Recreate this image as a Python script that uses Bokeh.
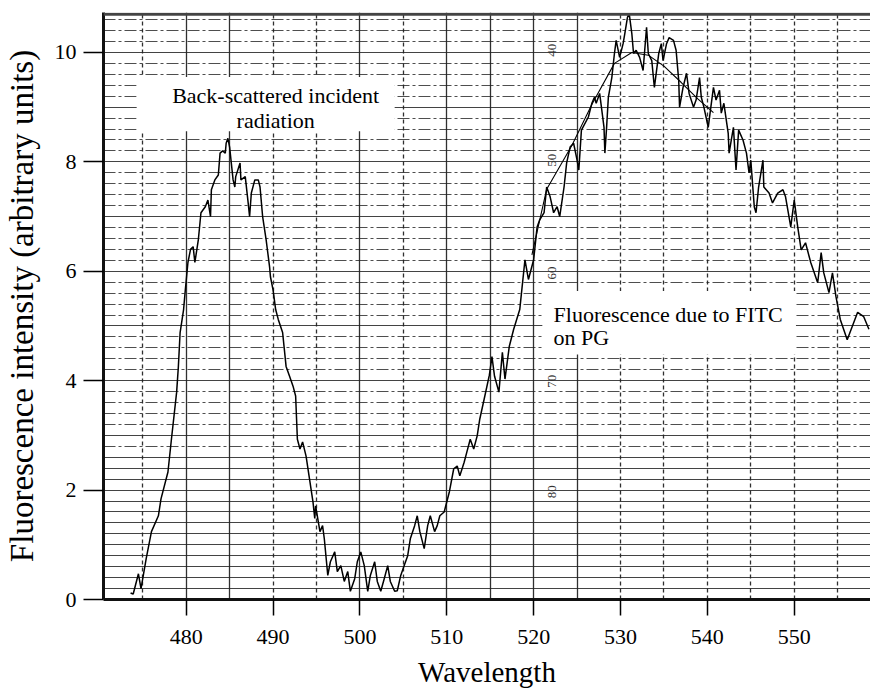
import math
from bokeh.plotting import figure
from bokeh.models import Range1d, FixedTicker, Grid, Span
from bokeh.core.properties import value
from bokeh.embed import file_html
from bokeh.resources import INLINE

# ---- data ----
wl = [473.6, 473.9, 474.5, 474.8, 475.4, 476.0, 476.8, 477.1, 477.9, 478.3, 478.9, 479.1, 479.3, 479.7,
      479.9, 480.2, 480.5, 480.8, 481.0, 481.4, 481.7, 482.2, 482.5, 482.8, 482.9, 483.3, 483.7, 483.9,
      484.2, 484.5, 484.6, 484.8, 485.0, 485.4, 485.6, 485.7, 486.2, 486.3, 486.8, 487.1, 487.3, 487.5,
      487.9, 488.3, 488.5, 488.8, 489.2, 489.6, 489.7, 490.0, 490.3, 490.6, 491.1, 491.5, 491.9, 492.3,
      492.6, 492.8, 493.1, 493.4, 493.8, 494.2, 494.6, 494.8, 494.9, 495.4, 495.7, 495.9, 496.3, 496.6,
      497.1, 497.4, 497.8, 498.2, 498.6, 498.9, 499.4, 499.7, 500.1, 500.5, 500.9, 501.2, 501.7, 502.0,
      502.4, 502.8, 503.2, 503.5, 504.0, 504.3, 504.7, 505.1, 505.5, 505.8, 506.3, 506.6, 506.9, 507.4,
      507.8, 508.1, 508.6, 508.9, 509.2, 509.7, 510.3, 510.8, 511.2, 511.5, 512.0, 512.3, 512.7, 513.1,
      513.5, 513.8, 514.3, 514.9, 515.2, 515.5, 516.0, 516.4, 516.7, 517.2, 517.7, 518.4, 519.0, 519.4,
      520.0, 520.4, 520.7, 521.2, 521.5, 521.9, 522.3, 522.7, 523.0, 523.5, 523.8, 524.2, 524.6, 525.0,
      525.2, 525.5, 526.3, 526.7, 527.0, 527.2, 527.6, 528.1, 528.2, 528.4, 528.6, 529.0, 529.3, 529.5,
      529.9, 530.3, 530.5, 530.8, 531.0, 531.3, 531.5, 531.8, 532.2, 532.6, 533.0, 533.2, 533.6, 533.9,
      534.4, 534.7, 534.9, 535.3, 535.6, 536.1, 536.4, 536.7, 536.8, 537.2, 537.6, 537.9, 538.4, 538.7,
      539.1, 539.3, 539.6, 540.1, 540.4, 540.7, 541.0, 541.4, 541.6, 541.9, 542.4, 542.5, 543.0, 543.3,
      543.6, 544.1, 544.5, 544.8, 545.0, 545.4, 545.6, 545.9, 546.4, 546.5, 547.1, 547.5, 548.1, 548.7,
      549.0, 549.6, 550.0, 550.4, 550.8, 551.3, 551.9, 552.7, 553.1, 553.4, 554.0, 554.4, 554.8, 555.3,
      556.1, 557.3, 558.0, 558.6]
intensity = [0.12, 0.10, 0.47, 0.20, 0.75, 1.24, 1.53, 1.84, 2.33, 2.93, 3.79, 4.26, 4.88, 5.30,
             5.66, 6.16, 6.40, 6.45, 6.16, 6.58, 7.07, 7.18, 7.30, 7.00, 7.49, 7.67, 7.76, 8.16,
             8.20, 8.16, 8.34, 8.43, 8.27, 7.67, 7.54, 7.73, 7.98, 7.67, 7.73, 7.30, 7.00, 7.43,
             7.67, 7.67, 7.54, 7.00, 6.58, 6.08, 5.90, 5.66, 5.30, 5.12, 4.88, 4.26, 4.08, 3.90,
             3.72, 2.93, 2.75, 2.88, 2.62, 2.20, 1.78, 1.48, 1.71, 1.24, 1.35, 1.11, 0.44, 0.69,
             0.87, 0.51, 0.62, 0.33, 0.51, 0.15, 0.38, 0.69, 0.87, 0.62, 0.15, 0.44, 0.69, 0.33,
             0.15, 0.38, 0.62, 0.33, 0.15, 0.16, 0.44, 0.62, 0.80, 1.11, 1.35, 1.53, 1.24, 0.93,
             1.35, 1.53, 1.24, 1.35, 1.53, 1.60, 1.97, 2.39, 2.44, 2.26, 2.51, 2.69, 2.93, 2.75,
             2.99, 3.30, 3.66, 4.10, 4.44, 4.08, 3.79, 4.52, 4.03, 4.63, 4.94, 5.30, 6.21, 5.85,
             6.21, 6.81, 6.94, 7.07, 7.54, 7.36, 7.07, 7.18, 7.00, 7.54, 7.98, 8.27, 8.34, 8.03,
             7.85, 8.58, 8.82, 9.07, 9.18, 9.07, 9.25, 8.63, 8.16, 8.63, 9.18, 9.54, 9.98, 10.22,
             9.91, 10.16, 10.35, 10.64, 10.71, 10.35, 9.98, 10.04, 9.91, 9.67, 10.46, 9.98, 9.85, 9.36,
             9.98, 10.16, 9.85, 10.16, 10.27, 10.22, 10.04, 9.49, 9.00, 9.36, 9.62, 9.25, 9.00, 9.13,
             9.54, 9.18, 9.00, 8.63, 9.00, 9.36, 9.13, 9.31, 8.89, 9.07, 8.52, 8.16, 8.63, 7.85,
             8.58, 8.40, 8.16, 7.80, 8.03, 7.18, 7.07, 7.54, 8.03, 7.54, 7.43, 7.25, 7.43, 7.49,
             7.36, 6.81, 7.30, 6.81, 6.39, 6.52, 6.16, 5.79, 6.34, 5.97, 5.61, 5.97, 5.54, 5.12,
             4.75, 5.25, 5.17, 4.94]

fit_wl = [519.8, 521.5, 524.4, 526.7, 529.3, 531.3, 533.2, 535.0, 537.0, 538.9, 540.7]
fit_val = [6.30, 7.50, 8.30, 9.05, 9.80, 10.00, 9.95, 9.75, 9.45, 9.15, 8.90]

x_ticks = [480, 490, 500, 510, 520, 530, 540, 550]
y_ticks = [0, 2, 4, 6, 8, 10]

paper_labels = ["40", "50", "60", "70", "80"]
paper_label_y = [10.04, 8.03, 5.97, 3.99, 1.97]
paper_label_x = [522.1] * 5

SERIF = "Liberation Serif"

p = figure(width=870, height=690,
           x_range=Range1d(470.48, 558.78), y_range=Range1d(0, 10.73),
           output_backend="svg", toolbar_location=None,
           min_border_left=100, min_border_right=0, min_border_top=12, min_border_bottom=89)
p.outline_line_color = None
p.background_fill_color = "white"
p.border_fill_color = "white"

# chart-paper grid
p.xgrid.visible = False
p.ygrid.visible = False
v_solid = [480, 485, 500, 510, 515, 520, 525]
v_dash = [475, 490, 495, 505, 530, 535, 540, 545, 550, 555]
p.add_layout(Grid(dimension=0, ticker=FixedTicker(ticks=v_solid), grid_line_color="#1a1a1a",
                  grid_line_width=1.3, grid_line_alpha=0.9))
p.add_layout(Grid(dimension=0, ticker=FixedTicker(ticks=v_dash), grid_line_color="#1a1a1a",
                  grid_line_width=1.3, grid_line_alpha=0.9, grid_line_dash="4 3"))
h_all = [round(0.2 * i, 1) for i in range(1, 54)]
h_low = [h for h in h_all if h <= 2.6]
h_int = [h for h in h_all if h > 2.6 and abs(h - round(h)) < 1e-6]
h_dash = [h for h in h_all if h > 2.6 and abs(h - round(h)) >= 1e-6]
p.add_layout(Grid(dimension=1, ticker=FixedTicker(ticks=h_low), grid_line_color="#222222",
                  grid_line_width=1.1, grid_line_alpha=0.85))
p.add_layout(Grid(dimension=1, ticker=FixedTicker(ticks=h_int), grid_line_color="#222222",
                  grid_line_width=1.1, grid_line_alpha=0.85))
p.add_layout(Grid(dimension=1, ticker=FixedTicker(ticks=h_dash), grid_line_color="#222222",
                  grid_line_width=1.1, grid_line_alpha=0.8, grid_line_dash="12 3 3 3"))

# top border of the paper
p.add_layout(Span(location=10.70, dimension="width", line_color="#444444", line_width=3))

# paper scale numbers
p.text(x=paper_label_x, y=paper_label_y, text=paper_labels, angle=math.pi / 2,
       text_font=value(SERIF), text_font_size="13px", text_color="#333333",
       text_align="center", text_baseline="middle")

# white label boxes
p.quad(left=[474.3], right=[504.0], bottom=[8.56], top=[9.55], fill_color="white", line_color=None)
p.quad(left=[521.0], right=[550.2], bottom=[4.48], top=[5.64], fill_color="white", line_color=None)

# curves
p.line(wl, intensity, line_color="black", line_width=1.5)
p.line(fit_wl, fit_val, line_color="black", line_width=1.1)

# annotation text
p.text(x=[490.3, 490.3], y=[9.22, 8.76], text=["Back-scattered incident", "radiation"],
       text_font=value(SERIF), text_font_size="22px", text_color="black",
       text_align="center", text_baseline="middle")
p.text(x=[522.3, 522.3], y=[5.21, 4.79], text=["Fluorescence due to FITC", "on PG"],
       text_font=value(SERIF), text_font_size="22px", text_color="black",
       text_align="left", text_baseline="middle")

# axes
xa = p.xaxis[0]
xa.ticker = FixedTicker(ticks=x_ticks)
xa.axis_label = "Wavelength"
xa.axis_line_width = 3
xa.axis_line_color = "#111111"
xa.major_tick_out = 16
xa.major_tick_in = 0
xa.major_tick_line_width = 1.5
xa.minor_tick_line_color = None
xa.major_label_standoff = 14
xa.major_label_text_font = SERIF
xa.major_label_text_font_size = "22px"
xa.major_label_text_color = "black"
xa.axis_label_text_font = SERIF
xa.axis_label_text_font_size = "29px"
xa.axis_label_text_font_style = "normal"
xa.axis_label_text_color = "black"
xa.axis_label_standoff = 9

ya = p.yaxis[0]
ya.ticker = FixedTicker(ticks=y_ticks)
ya.axis_label = "Fluorescence intensity (arbitrary units)"
ya.axis_line_width = 3
ya.axis_line_color = "#111111"
ya.major_tick_out = 20
ya.major_tick_in = 0
ya.major_tick_line_width = 1.5
ya.minor_tick_line_color = None
ya.major_label_standoff = 7
ya.major_label_text_font = SERIF
ya.major_label_text_font_size = "22px"
ya.major_label_text_color = "black"
ya.axis_label_text_font = SERIF
ya.axis_label_text_font_size = "33px"
ya.axis_label_text_font_style = "normal"
ya.axis_label_text_color = "black"
ya.axis_label_standoff = 12

open("out.html", "w").write(file_html(p, INLINE))
